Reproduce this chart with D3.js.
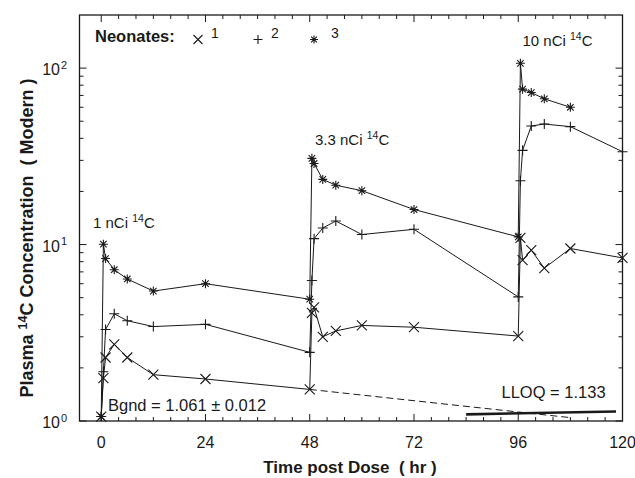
<!DOCTYPE html>
<html lang="en">
<head>
<meta charset="UTF-8">
<title>Plasma 14C Concentration in Neonates</title>
<script src="https://d3js.org/d3.v7.min.js"></script>
<style>
  body { margin: 0; background: #fff; }
  svg { display: block; font-family: 'Liberation Sans', Arial, Helvetica, sans-serif; fill: #1a1a1a; }
  .line { fill: none; stroke: #1a1a1a; stroke-width: 1; }
  .mark { fill: none; stroke: #1a1a1a; stroke-width: 1.1; }
  .frame { fill: none; stroke: #1a1a1a; stroke-width: 1.3; }
  .tick { stroke: #1a1a1a; stroke-width: 1; }
</style>
</head>
<body>
<div id="chart"></div>
<script>
  // sampling times (hr) and concentrations (Modern) per neonate
  const hours = [0, 0.5, 1, 3, 6, 12, 24, 48, 48.5, 49, 51, 54, 60, 72, 96, 96.5, 97, 99, 102, 108, 120];
  const neonate1 = [1.06, 1.75, 2.29, 2.72, 2.29, 1.83, 1.73, 1.51, 4.1, 4.4, 3.0, 3.24, 3.48, 3.40, 3.03, 10.9, 8.15, 9.3, 7.35, 9.5, 8.4];
  const neonate2 = [1.06, 1.9, 3.3, 4.05, 3.7, 3.43, 3.53, 2.45, 6.25, 10.8, 12.4, 13.6, 11.4, 12.2, 5.05, 23, 34.2, 47, 48.2, 46.6, 33.6];
  const neonate3 = [1.06, 10.05, 8.33, 7.2, 6.38, 5.45, 6.0, 4.9, 30.8, 28.8, 23.4, 21.7, 20.2, 15.8, 11.05, 106.5, 76, 72.7, 67, 60];
  const seriesNames = ["1", "2", "3"];

  const extrapHours = [48, 108];
  const extrapValues = [1.51, 1.045];
  const lloqHours = [84, 118.5];
  const lloqValues = [1.09, 1.133];

  const xTicks = [0, 24, 48, 72, 96, 120];
  const yTicks = [1, 10, 100];
  const yTickExp = ["0", "1", "2"];
  const doses = ["1", "3.3", "10"];

  const width = 635, height = 478;
  const plot = { left: 79.5, right: 622.5, top: 15, bottom: 421 };

  const svg = d3.select("#chart").append("svg")
    .attr("width", width).attr("height", height);

  const x = d3.scaleLinear().domain([-5, 120]).range([plot.left, plot.right]);
  const y = d3.scaleLog().domain([1, 200]).range([plot.bottom, plot.top]);

  // ticks, all pointing inwards on every side
  const xMinor = d3.range(0, 121, 4).filter(d => !xTicks.includes(d));
  const yMinor = [];
  [1, 10, 100].forEach(dec => d3.range(2, 10).forEach(k => { if (dec * k < 200) yMinor.push(dec * k); }));

  const ticks = svg.append("g");
  function xTick(v, len) {
    ticks.append("line").attr("class", "tick")
      .attr("x1", x(v)).attr("x2", x(v)).attr("y1", plot.bottom).attr("y2", plot.bottom - len);
    ticks.append("line").attr("class", "tick")
      .attr("x1", x(v)).attr("x2", x(v)).attr("y1", plot.top).attr("y2", plot.top + len);
  }
  function yTick(v, len) {
    ticks.append("line").attr("class", "tick")
      .attr("x1", plot.left).attr("x2", plot.left + len).attr("y1", y(v)).attr("y2", y(v));
    ticks.append("line").attr("class", "tick")
      .attr("x1", plot.right).attr("x2", plot.right - len).attr("y1", y(v)).attr("y2", y(v));
  }
  xTicks.forEach(v => xTick(v, 7));
  xMinor.forEach(v => xTick(v, 4));
  yTicks.forEach(v => yTick(v, 7));
  yMinor.forEach(v => yTick(v, 4));

  svg.append("rect").attr("class", "frame")
    .attr("x", plot.left).attr("y", plot.top)
    .attr("width", plot.right - plot.left).attr("height", plot.bottom - plot.top);

  // tick labels
  svg.append("g").selectAll("text").data(xTicks).enter().append("text")
    .attr("x", d => x(d)).attr("y", 448)
    .attr("text-anchor", "middle").attr("font-size", 16)
    .text(d => d);

  yTicks.forEach((v, i) => {
    svg.append("text").attr("x", 60).attr("y", y(v) + 7)
      .attr("text-anchor", "end").attr("font-size", 16).text("10");
    svg.append("text").attr("x", 61).attr("y", y(v) + 0.5)
      .attr("font-size", 11).text(yTickExp[i]);
  });

  // axis titles
  svg.append("text").attr("x", 350).attr("y", 473)
    .attr("text-anchor", "middle").attr("font-size", 17).attr("font-weight", "bold")
    .attr("xml:space", "preserve")
    .text("Time post Dose  ( hr )");

  const yTitle = svg.append("text")
    .attr("transform", "translate(33,238) rotate(-90)")
    .attr("text-anchor", "middle").attr("font-size", 18).attr("font-weight", "bold")
    .attr("xml:space", "preserve");
  yTitle.append("tspan").text("Plasma ");
  yTitle.append("tspan").attr("font-size", 12.5).attr("dy", -6).text("14");
  yTitle.append("tspan").attr("dy", 6).text("C Concentration  ( Modern )");

  // markers
  const markers = [
    s => `M${-s},${-s}L${s},${s}M${-s},${s}L${s},${-s}`,
    s => `M${-s},0L${s},0M0,${-s}L0,${s}`,
    s => {
      const d = s * 0.72;
      return `M${-s},0L${s},0M0,${-s}L0,${s}M${-d},${-d}L${d},${d}M${-d},${d}L${d},${-d}`;
    }
  ];
  const markSize = [5, 5, 4.5];

  const line = d3.line().x(d => x(d[0])).y(d => y(d[1]));
  const allSeries = [neonate1, neonate2, neonate3];

  // extrapolation and LLOQ
  svg.append("path").attr("class", "line")
    .style("stroke-dasharray", "7,4")
    .attr("d", line(d3.zip(extrapHours, extrapValues)));
  svg.append("path").attr("class", "line").style("stroke-width", 2.6)
    .attr("d", line(d3.zip(lloqHours, lloqValues)));

  allSeries.forEach((vals, i) => {
    const pts = d3.zip(hours.slice(0, vals.length), vals);
    svg.append("path").attr("class", "line").attr("d", line(pts));
    svg.append("g").selectAll("path").data(pts).enter().append("path")
      .attr("class", "mark")
      .attr("transform", d => `translate(${x(d[0])},${y(d[1])})`)
      .attr("d", markers[i](markSize[i]));
  });

  // legend
  svg.append("text").attr("x", 95).attr("y", 41.5)
    .attr("font-size", 16.5).attr("font-weight", "bold").text("Neonates:");
  const legX = [198, 258, 314];
  seriesNames.forEach((n, i) => {
    svg.append("path").attr("class", "mark")
      .attr("transform", `translate(${legX[i]},39.5)`)
      .attr("d", markers[i](i === 2 ? 4 : 4.5));
    svg.append("text").attr("x", legX[i] + (i === 2 ? 17 : 13)).attr("y", 37.5)
      .attr("font-size", 14).text(n);
  });

  // dose annotations
  const doseX = [93, 315, 522.5];
  const doseY = [228, 145, 45.5];
  doses.forEach((d, i) => {
    const t = svg.append("text").attr("x", doseX[i]).attr("y", doseY[i]).attr("font-size", 15);
    t.append("tspan").text(d + " nCi ");
    t.append("tspan").attr("font-size", 10.5).attr("dy", -6).text("14");
    t.append("tspan").attr("dy", 6).text("C");
  });

  svg.append("text").attr("x", 108).attr("y", 410.5).attr("font-size", 16.5)
    .text("Bgnd = 1.061 \u00b1 0.012");
  svg.append("text").attr("x", 501.5).attr("y", 398).attr("font-size", 16.5)
    .text("LLOQ = 1.133");
</script>
</body>
</html>
